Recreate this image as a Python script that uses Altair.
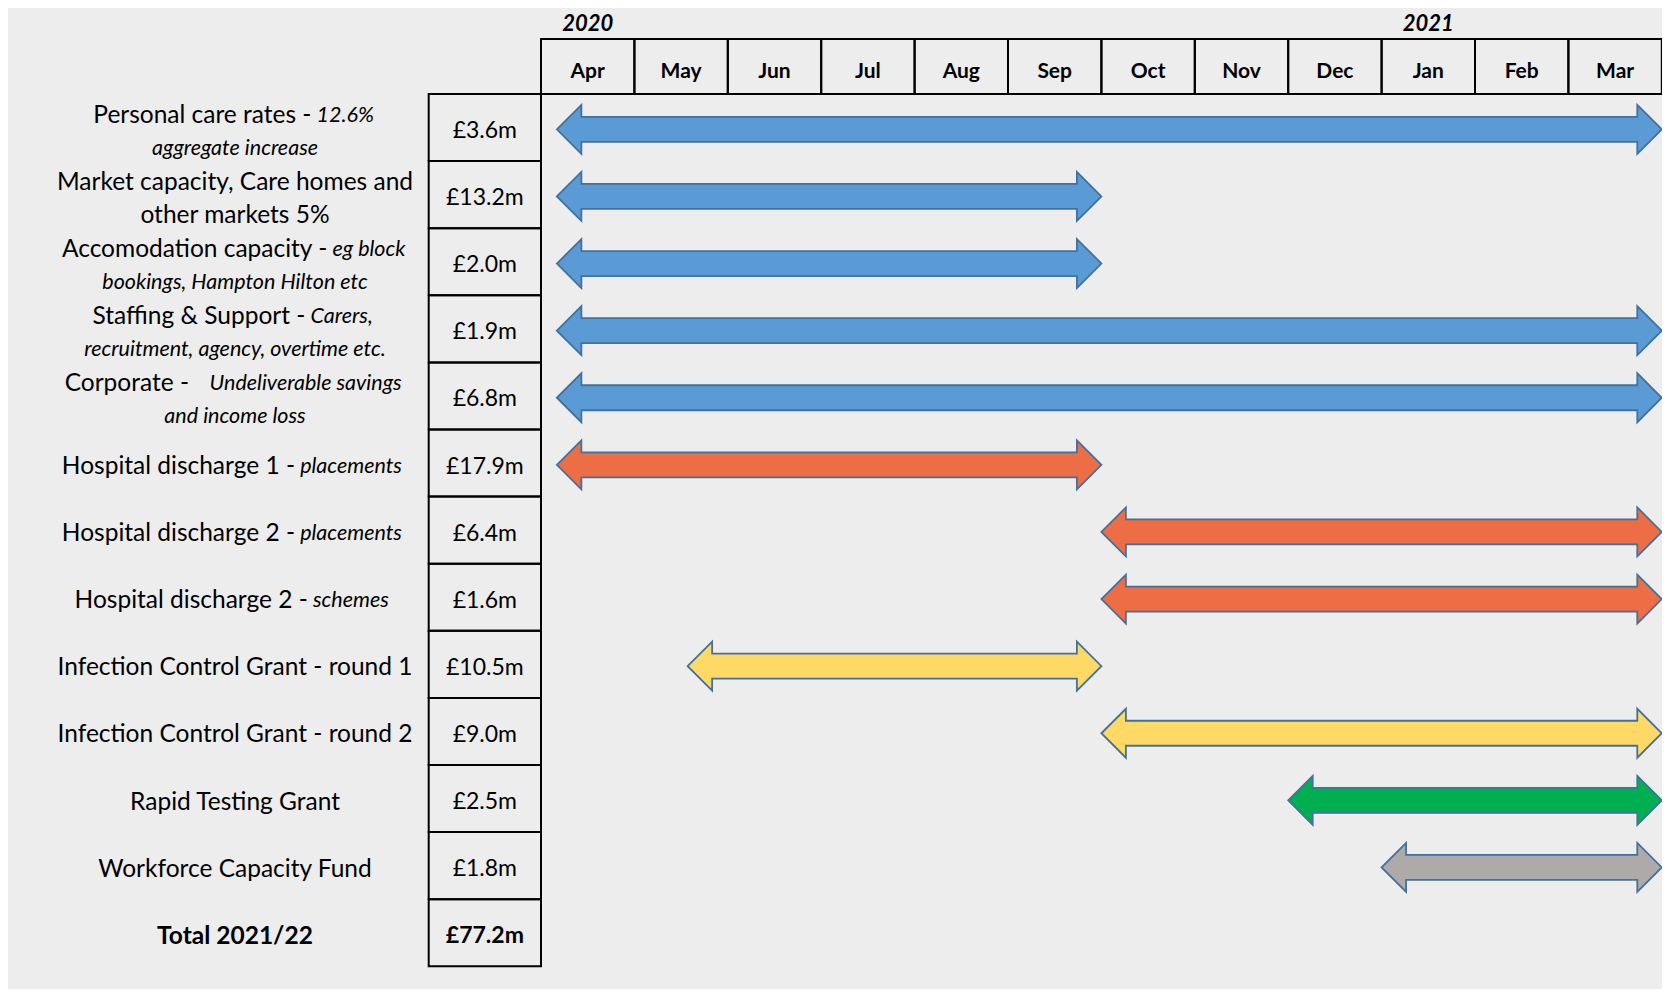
import altair as alt
import pandas as pd

# ---------------- data ----------------
months = ["Apr", "May", "Jun", "Jul", "Aug", "Sep", "Oct", "Nov", "Dec", "Jan", "Feb", "Mar"]
years = ["2020", "2021"]
year_month_index = [0, 9]

label_regular = [
    "Personal care rates - ",
    "Market capacity, Care homes and",
    "Accomodation capacity - ",
    "Staffing & Support - ",
    "Corporate -    ",
    "Hospital discharge 1 - ",
    "Hospital discharge 2 - ",
    "Hospital discharge 2 - ",
    "Infection Control Grant - round 1",
    "Infection Control Grant - round 2",
    "Rapid Testing Grant",
    "Workforce Capacity Fund",
    "Total 2021/22",
]
label_italic = ["12.6%", "", "eg block", "Carers,", "Undeliverable savings",
                "placements", "placements", "schemes", "", "", "", "", ""]
label_second = ["aggregate increase", "other markets 5%", "bookings, Hampton Hilton etc",
                "recruitment, agency, overtime etc.", "and income loss",
                "", "", "", "", "", "", "", ""]
label_second_italic = [True, False, True, True, True, False, False, False,
                       False, False, False, False, False]

amounts = ["£3.6m", "£13.2m", "£2.0m", "£1.9m", "£6.8m", "£17.9m", "£6.4m",
           "£1.6m", "£10.5m", "£9.0m", "£2.5m", "£1.8m", "£77.2m"]

# arrows: start / end in months from start of April 2020
arrow_start = [0.17, 0.17, 0.17, 0.17, 0.17, 0.17, 6, 6, 1.57, 6, 8, 9]
arrow_end = [12, 6, 6, 12, 12, 6, 12, 12, 6, 12, 12, 12]
arrow_color = ["#5B9BD5"] * 5 + ["#ED6D45"] * 3 + ["#FFD966"] * 2 + ["#00B050", "#AEAAAA"]

# ---------------- layout / style ----------------
W, H = 1654, 981
MONTH_PX = 93.4
APR_X = 533.0
ROW_PX = 67.1
ROW0_Y = 86.0
HEADER_TOP_PX = 31.0
YEAR_Y_PX = 16.0
MONTH_LABEL_Y_PX = 63.5
AMT_LEFT_PX = 420.7
LABEL_CX_PX = 227.0
FONT = "Lato"
REG_SIZE, IT_SIZE, AMT_SIZE = 24.5, 21.5, 23
LINE1_DY, LINE2_DY, SINGLE_DY, AMT_DY = -12.0, 21.5, 4.0, 3.5
HEAD_LEN_PX, HEAD_HALF_PX, SHAFT_HALF_PX, ARROW_DY_PX = 24.5, 24.5, 12.5, 1.8
BG = "#EDEDED"
OUTLINE = "#41719C"
EPS = 1e-4

def mx(px):
    return (px - APR_X) / MONTH_PX

def ry(px):
    return (px - ROW0_Y) / ROW_PX

x_dom = [mx(0), mx(W)]
y_dom = [ry(0), ry(H)]
xs = alt.Scale(domain=x_dom, nice=False, zero=False)
ys = alt.Scale(domain=y_dom, nice=False, zero=False, reverse=True)

CW = {' ': .193, 'a': .49, 'b': .55, 'c': .45, 'd': .55, 'e': .51, 'f': .31, 'g': .49,
      'h': .55, 'i': .23, 'j': .23, 'k': .5, 'l': .23, 'm': .83, 'n': .55, 'o': .55,
      'p': .55, 'q': .55, 'r': .36, 's': .41, 't': .34, 'u': .55, 'v': .5, 'w': .76,
      'x': .48, 'y': .5, 'z': .44, 'I': .27, 'M': .8, 'W': .9, 'C': .67, 'G': .71,
      'H': .72, 'S': .54, 'P': .6, 'A': .67, 'R': .6, 'T': .58, 'U': .7, 'F': .55,
      'B': .63, 'D': .72, 'E': .55, '.': .22, ',': .22, '-': .35, '%': .75, '&': .7,
      '£': .58, '/': .38}

def tw(s, size, italic=False):
    w = sum(CW.get(ch, .58 if ch.isdigit() else (.62 if ch.isupper() else .5)) for ch in s)
    return w * size * (0.99 if italic else 1.03)

# ---------------- tables ----------------
lab = []
n_rows = len(label_regular)
for i in range(n_rows):
    two = label_second[i] != ""
    y1 = i + 0.5 + (LINE1_DY if two else SINGLE_DY) / ROW_PX
    reg = label_regular[i]
    it = label_italic[i]
    if i == n_rows - 1:
        lab.append(dict(x=mx(LABEL_CX_PX), y=y1, text=reg.strip(), kind="bold"))
    elif it:
        core = reg.rstrip()
        gap = (len(reg) - len(core)) * 0.21 * REG_SIZE
        wr = tw(core, REG_SIZE)
        wi = tw(it, IT_SIZE, True)
        left = LABEL_CX_PX - (wr + gap + wi) / 2
        lab.append(dict(x=mx(left + wr), y=y1, text=core, kind="reg_right"))
        lab.append(dict(x=mx(left + wr + gap), y=y1, text=it, kind="it_left"))
    else:
        lab.append(dict(x=mx(LABEL_CX_PX), y=y1, text=reg.strip(), kind="reg_center"))
    if two:
        y2 = i + 0.5 + LINE2_DY / ROW_PX
        lab.append(dict(x=mx(LABEL_CX_PX), y=y2, text=label_second[i],
                        kind="it_center" if label_second_italic[i] else "reg_center"))
lab_df = pd.DataFrame(lab)

amt_df = pd.DataFrame(dict(
    x=[mx(AMT_LEFT_PX) / 2] * n_rows,
    y=[i + 0.5 + AMT_DY / ROW_PX for i in range(n_rows)],
    x0=[mx(AMT_LEFT_PX)] * n_rows, x1=[0.0] * n_rows,
    y0=list(range(n_rows)), y1=[i + 1 for i in range(n_rows)],
    text=amounts, total=[i == n_rows - 1 for i in range(n_rows)],
))

month_df = pd.DataFrame(dict(
    m=months, x0=list(range(12)), x1=[i + 1 for i in range(12)],
    xc=[i + 0.5 for i in range(12)],
    y0=[ry(HEADER_TOP_PX)] * 12, y1=[0.0] * 12, ty=[ry(MONTH_LABEL_Y_PX)] * 12,
))

year_df = pd.DataFrame(dict(t=years, x=[m + 0.5 for m in year_month_index],
                            y=[ry(YEAR_Y_PX)] * len(years)))

pts = []
hl = HEAD_LEN_PX / MONTH_PX
hh = HEAD_HALF_PX / ROW_PX
sh = SHAFT_HALF_PX / ROW_PX
for i, (s, e, c) in enumerate(zip(arrow_start, arrow_end, arrow_color)):
    cy = i + 0.5 + ARROW_DY_PX / ROW_PX
    shape = [(s, 0), (s + hl - EPS, hh), (s + hl + EPS, sh),
             (e - hl - EPS, sh), (e - hl + EPS, hh), (e, 0)]
    for k, (xx, half) in enumerate(shape):
        pts.append(dict(id=f"a{i}", k=k, x=xx, top=cy - half, bot=cy + half, color=c))
arrow_df = pd.DataFrame(pts)

# ---------------- layers ----------------
def X(f):
    return alt.X(f, type="quantitative", scale=xs, axis=None)

def Y(f):
    return alt.Y(f, type="quantitative", scale=ys, axis=None)

header_cells = alt.Chart(month_df).mark_rect(fillOpacity=0, stroke="black", strokeWidth=2).encode(
    x=X("x0"), x2="x1", y=Y("y0"), y2="y1")
header_text = alt.Chart(month_df).mark_text(font=FONT, fontSize=21, fontWeight="bold",
                                            color="black", baseline="middle").encode(
    x=X("xc"), y=Y("ty"), text="m:N")
year_text = alt.Chart(year_df).mark_text(font=FONT, fontSize=22, fontWeight="bold",
                                         fontStyle="italic", color="black",
                                         baseline="middle").encode(
    x=X("x"), y=Y("y"), text="t:N")

amt_cells = alt.Chart(amt_df).mark_rect(fillOpacity=0, stroke="black", strokeWidth=2).encode(
    x=X("x0"), x2="x1", y=Y("y0"), y2="y1")
amt_text = alt.Chart(amt_df).transform_filter("!datum.total").mark_text(
    font=FONT, fontSize=AMT_SIZE, color="black", baseline="middle").encode(
    x=X("x"), y=Y("y"), text="text:N")
amt_total = alt.Chart(amt_df).transform_filter("datum.total").mark_text(
    font=FONT, fontSize=AMT_SIZE, fontWeight="bold", color="black", baseline="middle").encode(
    x=X("x"), y=Y("y"), text="text:N")

def lab_layer(kind, **kw):
    return alt.Chart(lab_df).transform_filter(f"datum.kind == '{kind}'").mark_text(
        font=FONT, color="black", baseline="middle", **kw).encode(
        x=X("x"), y=Y("y"), text="text:N")

labels = [
    lab_layer("reg_center", fontSize=REG_SIZE, align="center"),
    lab_layer("reg_right", fontSize=REG_SIZE, align="right"),
    lab_layer("it_center", fontSize=IT_SIZE, fontStyle="italic", align="center"),
    lab_layer("it_left", fontSize=IT_SIZE, fontStyle="italic", align="left"),
    lab_layer("bold", fontSize=REG_SIZE, fontWeight="bold", align="center"),
]

arrows = alt.Chart(arrow_df).mark_area(orient="vertical", interpolate="linear",
                                       stroke=OUTLINE, strokeWidth=1.8,
                                       strokeJoin="miter", opacity=1).encode(
    x=X("x"),
    y=alt.Y("top", type="quantitative", scale=ys, axis=None, stack=None),
    y2="bot",
    fill=alt.Fill("color:N", scale=None),
    detail="id:N",
)

chart = alt.layer(
    header_cells, amt_cells, arrows, header_text, year_text, amt_text, amt_total, *labels
).properties(
    width=W, height=H, padding=0, background=BG,
    autosize=alt.AutoSizeParams(type="none"),
).configure_view(stroke=None)

chart.save("out.html", embed_options={"renderer": "svg", "actions": False})
